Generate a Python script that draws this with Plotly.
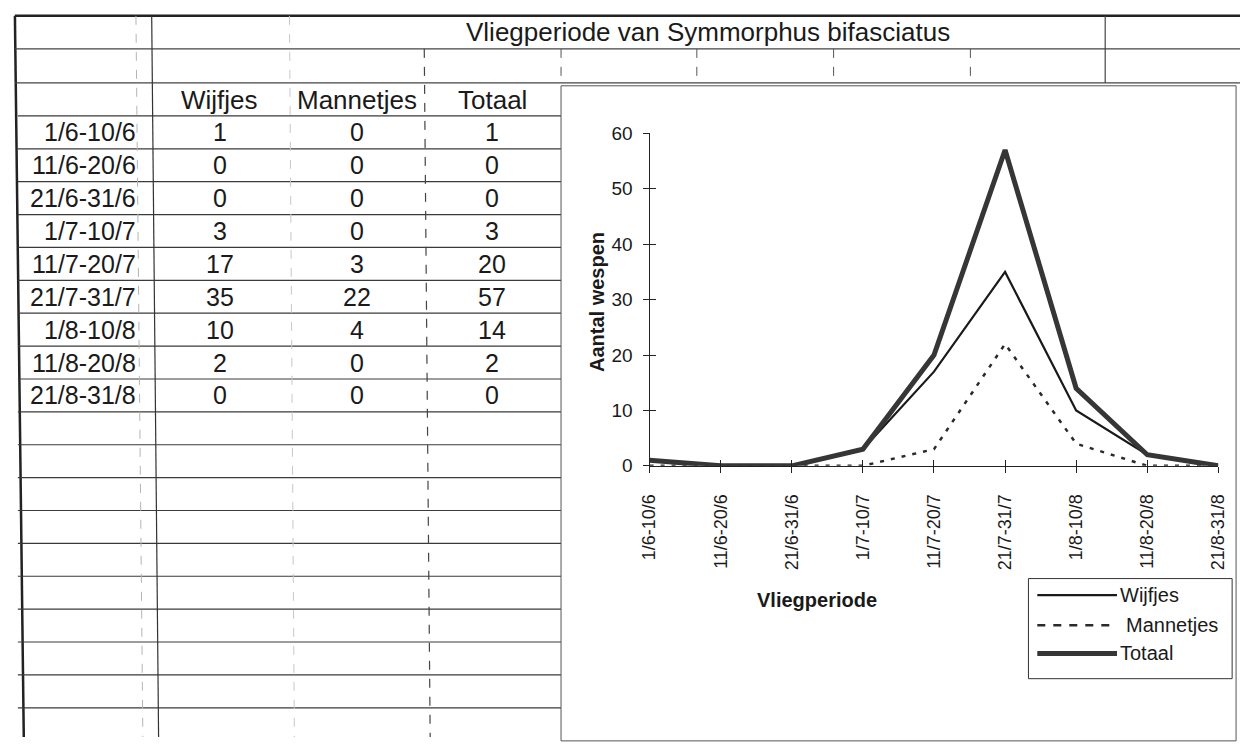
import plotly.graph_objects as go

W, H = 1250, 748

# Flight-period data for Symmorphus bifasciatus
periods = ["1/6-10/6", "11/6-20/6", "21/6-31/6", "1/7-10/7", "11/7-20/7",
           "21/7-31/7", "1/8-10/8", "11/8-20/8", "21/8-31/8"]
wijfjes = [1, 0, 0, 3, 17, 35, 10, 2, 0]
mannetjes = [0, 0, 0, 0, 3, 22, 4, 0, 0]
totaal = [1, 0, 0, 3, 20, 57, 14, 2, 0]
headers = ["Wijfjes", "Mannetjes", "Totaal"]
title_text = "Vliegperiode van Symmorphus bifasciatus"
y_ticks = [0, 10, 20, 30, 40, 50, 60]

FONT = "Arial, Liberation Sans, sans-serif"
INK = "#1a1a1a"


def px(x):
    return x / W


def py(y):
    return 1 - y / H


shapes = []
annotations = []


def hline(x0, x1, y, color="#333", width=1, dash="solid"):
    shapes.append(dict(type="line", xref="paper", yref="paper",
                       x0=px(x0), x1=px(x1), y0=py(y), y1=py(y),
                       line=dict(color=color, width=width, dash=dash)))


def vline(x0, x1, y0, y1, color="#333", width=1, dash="solid"):
    shapes.append(dict(type="line", xref="paper", yref="paper",
                       x0=px(x0), x1=px(x1), y0=py(y0), y1=py(y1),
                       line=dict(color=color, width=width, dash=dash)))


def text(x, y, s, size, xanchor="center", bold=False, angle=0):
    annotations.append(dict(xref="paper", yref="paper", x=px(x), y=py(y),
                            text=f"<b>{s}</b>" if bold else s, showarrow=False,
                            xanchor=xanchor, yanchor="middle", textangle=angle,
                            font=dict(family=FONT, size=size, color=INK)))


# --- spreadsheet grid ---------------------------------------------------
# outer borders
hline(5, W, 6, color="#222", width=2.5)
vline(5, 14, 6, H, color="#222", width=2.5)

# top rows across the full sheet
hline(5, W, 40, color="#444", width=1.2)
hline(5, W, 75, color="#444", width=1.2)

# table rows
row_top = 109
row_h = 33.83
for k in range(19):
    hline(8, 560, row_top + k * row_h, color="#3a3a3a", width=1.2)

# column separators (slightly skewed, as on the printed sheet)
vline(128, 135, 6, H, color="#b5b5b5", width=1, dash="dash")
vline(144, 151, 6, H, color="#333", width=1.2)
vline(284, 289, 6, H, color="#c8c8c8", width=1, dash="dash")
vline(421, 427, 40, H, color="#444", width=1.2, dash="dash")
for x in (560, 698, 837, 976):
    vline(x, x, 40, 75, color="#555", width=1, dash="dash")
vline(1113, 1113, 6, 75, color="#444", width=1.2)

# chart object border
shapes.append(dict(type="rect", xref="paper", yref="paper",
                   x0=px(560), x1=px(1246), y0=py(752), y1=py(78),
                   line=dict(color="#555", width=1), fillcolor="rgba(0,0,0,0)"))

# --- table text ---------------------------------------------------------
text(709, 23, title_text, 26)
col_x = [213, 353, 490]
for cx, h in zip(col_x, headers):
    text(cx, 93, h, 26)
for i, p in enumerate(periods):
    yc = row_top + (i + 0.5) * row_h
    text(130, yc, p, 25, xanchor="right")
    for cx, v in zip(col_x, (wijfjes[i], mannetjes[i], totaal[i])):
        text(cx, yc, str(v), 25)

# --- chart ----------------------------------------------------------------
fig = go.Figure()
fig.add_trace(go.Scatter(x=periods, y=wijfjes, mode="lines", name="Wijfjes",
                         line=dict(color="#1a1a1a", width=2.2)))
fig.add_trace(go.Scatter(x=periods, y=mannetjes, mode="lines", name="Mannetjes",
                         line=dict(color="#2a2a2a", width=2.5, dash="4px,7px")))
fig.add_trace(go.Scatter(x=periods, y=totaal, mode="lines", name="Totaal",
                         line=dict(color="#363636", width=5)))
# helper trace carrying the inner half of the cross-shaped tick marks
fig.add_trace(go.Scatter(x=periods, y=totaal, mode="lines", xaxis="x2", yaxis="y2",
                         line=dict(width=0), opacity=0, hoverinfo="skip",
                         showlegend=False))

x_dom = [px(650), px(1228)]
y_dom = [py(469), py(127)]

axis_common = dict(showgrid=False, zeroline=False, linecolor="#222",
                   tickcolor="#222", tickwidth=1.2, ticklen=6)

fig.update_layout(
    width=W, height=H,
    margin=dict(l=0, r=0, t=0, b=0),
    paper_bgcolor="white", plot_bgcolor="rgba(0,0,0,0)",
    showlegend=False,
    font=dict(family=FONT, color=INK),
    xaxis=dict(domain=x_dom, anchor="y", type="category", categoryarray=periods,
               range=[0, 8], showline=True, linewidth=1.2, ticks="outside",
               tickangle=-90, tickfont=dict(size=18, color=INK),
               ticklabelstandoff=14, **axis_common),
    yaxis=dict(domain=y_dom, anchor="x", range=[0, 60], tickvals=y_ticks,
               showline=True, linewidth=1.2, ticks="outside",
               tickfont=dict(size=19, color=INK), ticklabelstandoff=6,
               **axis_common),
    xaxis2=dict(domain=x_dom, anchor="y2", overlaying="x", type="category",
                categoryarray=periods, range=[0, 8], showline=False,
                ticks="inside", showticklabels=False, **axis_common),
    yaxis2=dict(domain=y_dom, anchor="x2", overlaying="y", range=[0, 60],
                tickvals=y_ticks, showline=False, ticks="inside",
                showticklabels=False, **axis_common),
)

# axis titles
text(596, 300, "Aantal wespen", 20, bold=True, angle=-90)
text(820, 607, "Vliegperiode", 20, bold=True)

# legend box drawn as sheet graphics
shapes.append(dict(type="rect", xref="paper", yref="paper",
                   x0=px(1035), x1=px(1242), y0=py(688), y1=py(585),
                   line=dict(color="#333", width=1), fillcolor="white"))
legend_rows = [("Wijfjes", 602, dict(color="#1a1a1a", width=2.2), 1126),
               ("Mannetjes", 633, dict(color="#2a2a2a", width=2.5, dash="8px,8px"), 1132),
               ("Totaal", 662, dict(color="#363636", width=5), 1126)]
for name, yy, ln, tx in legend_rows:
    shapes.append(dict(type="line", xref="paper", yref="paper",
                       x0=px(1044), x1=px(1125), y0=py(yy), y1=py(yy), line=ln))
    text(tx, yy, name, 20, xanchor="left")

fig.update_layout(shapes=shapes, annotations=annotations)
fig.write_html("out.html")
